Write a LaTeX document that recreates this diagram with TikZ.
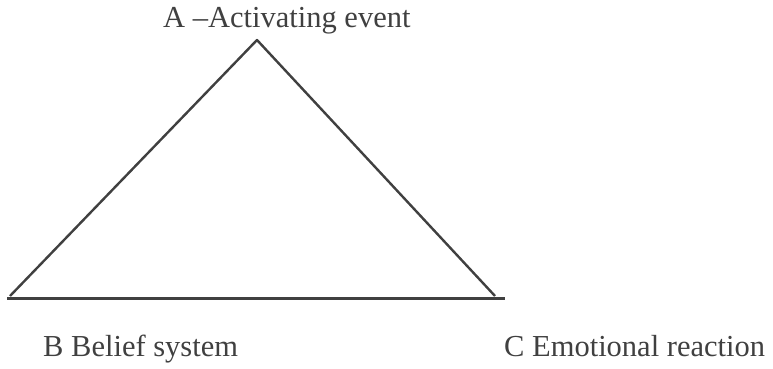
\documentclass[tikz,border=0pt]{standalone}
\usepackage{fontspec}
\setmainfont{Liberation Serif}
\begin{document}
\begin{tikzpicture}[x=1pt,y=1pt,
  lbl/.style={text=black!75, font=\fontsize{30.5}{34}\selectfont, inner sep=0pt},
  edge/.style={draw=black!75, line width=2.4pt, line join=round}]
\useasboundingbox (0,0) rectangle (773,369);
\coordinate (apex) at (257,329);
\coordinate (bl) at (10,73);
\coordinate (br) at (495,73);
\coordinate (bl2) at (7,70.5);
\coordinate (br2) at (505,70.5);
\draw[edge] (bl) -- (apex) -- (br);
\draw[edge, line width=3pt] (bl2) -- (br2);
\node[lbl, anchor=base west] (A) at (163,341) {A –Activating event};
\node[lbl, anchor=base west] (B) at (43,12) {B Belief system};
\node[lbl, anchor=base west] (C) at (504,12) {C Emotional reaction};
\end{tikzpicture}
\end{document}
